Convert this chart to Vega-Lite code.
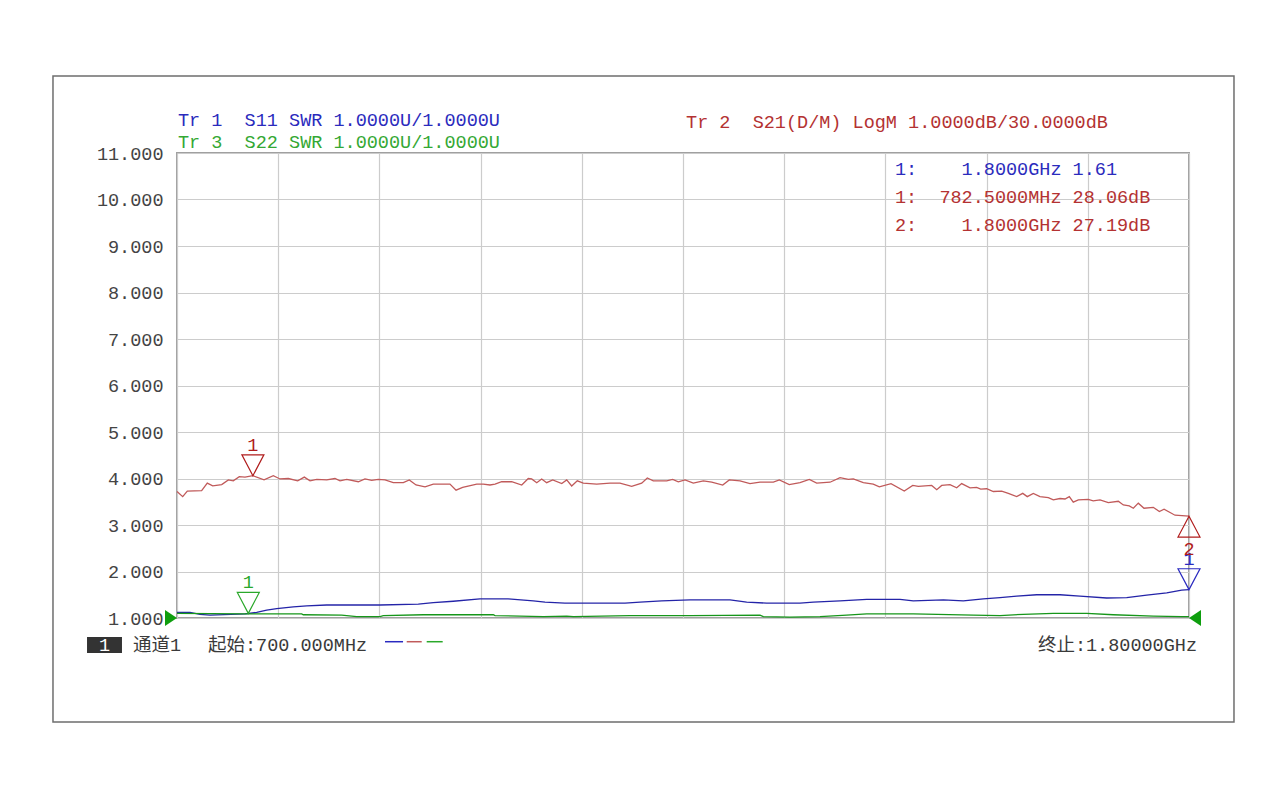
{
  "$schema": "https://vega.github.io/schema/vega-lite/v6.json",
  "width": 1012,
  "height": 465,
  "autosize": {"type": "none"},
  "padding": {"left": 177, "top": 153, "right": 91, "bottom": 182},
  "background": "white",
  "config": {
    "view": {"stroke": "#a0a0a0", "strokeWidth": 2},
    "font": "Liberation Mono",
    "axis": {"titleOpacity": 0, "titleFontSize": 1, "ticks": false, "domain": false, "grid": true, "gridColor": "#cccccc", "gridWidth": 1.2}
  },
  "datasets": {
    "traces": [
      {"trace": "S21", "f": 700, "v": 3.72}, {"trace": "S21", "f": 706.2, "v": 3.61}, {"trace": "S21", "f": 711.2, "v": 3.73},
      {"trace": "S21", "f": 726.8, "v": 3.74}, {"trace": "S21", "f": 732.9, "v": 3.90}, {"trace": "S21", "f": 738.8, "v": 3.84},
      {"trace": "S21", "f": 748.6, "v": 3.87}, {"trace": "S21", "f": 755.8, "v": 3.97}, {"trace": "S21", "f": 761.2, "v": 3.95},
      {"trace": "S21", "f": 767.7, "v": 4.04}, {"trace": "S21", "f": 773.9, "v": 4.03}, {"trace": "S21", "f": 782.5, "v": 4.06},
      {"trace": "S21", "f": 794.6, "v": 3.97}, {"trace": "S21", "f": 804.7, "v": 4.06}, {"trace": "S21", "f": 812.0, "v": 3.99},
      {"trace": "S21", "f": 821.0, "v": 4.00}, {"trace": "S21", "f": 831.2, "v": 3.95}, {"trace": "S21", "f": 838.4, "v": 4.03},
      {"trace": "S21", "f": 844.6, "v": 3.95}, {"trace": "S21", "f": 851.9, "v": 3.98}, {"trace": "S21", "f": 862.7, "v": 3.97},
      {"trace": "S21", "f": 871.7, "v": 4.00}, {"trace": "S21", "f": 877.2, "v": 3.95}, {"trace": "S21", "f": 884.5, "v": 3.98},
      {"trace": "S21", "f": 897.1, "v": 3.93}, {"trace": "S21", "f": 904.3, "v": 3.99}, {"trace": "S21", "f": 911.6, "v": 3.96},
      {"trace": "S21", "f": 918.8, "v": 3.98}, {"trace": "S21", "f": 926.1, "v": 3.97}, {"trace": "S21", "f": 935.1, "v": 3.91},
      {"trace": "S21", "f": 946.0, "v": 3.91}, {"trace": "S21", "f": 952.5, "v": 3.97}, {"trace": "S21", "f": 959.8, "v": 3.86},
      {"trace": "S21", "f": 969.6, "v": 3.82}, {"trace": "S21", "f": 978.6, "v": 3.88}, {"trace": "S21", "f": 996.7, "v": 3.88},
      {"trace": "S21", "f": 1003.3, "v": 3.75}, {"trace": "S21", "f": 1010.5, "v": 3.81}, {"trace": "S21", "f": 1025.8, "v": 3.88},
      {"trace": "S21", "f": 1032.9, "v": 3.88}, {"trace": "S21", "f": 1040.2, "v": 3.86}, {"trace": "S21", "f": 1045.7, "v": 3.88},
      {"trace": "S21", "f": 1052.9, "v": 3.93}, {"trace": "S21", "f": 1063.8, "v": 3.93}, {"trace": "S21", "f": 1074.7, "v": 3.86},
      {"trace": "S21", "f": 1081.8, "v": 4.00}, {"trace": "S21", "f": 1085.5, "v": 3.99}, {"trace": "S21", "f": 1091.0, "v": 3.91},
      {"trace": "S21", "f": 1096.4, "v": 3.99}, {"trace": "S21", "f": 1101.8, "v": 3.91}, {"trace": "S21", "f": 1108.4, "v": 3.97},
      {"trace": "S21", "f": 1118.2, "v": 3.89}, {"trace": "S21", "f": 1123.6, "v": 3.97}, {"trace": "S21", "f": 1129.0, "v": 3.84},
      {"trace": "S21", "f": 1135.1, "v": 3.95}, {"trace": "S21", "f": 1141.6, "v": 3.90}, {"trace": "S21", "f": 1156.2, "v": 3.88},
      {"trace": "S21", "f": 1170.7, "v": 3.90}, {"trace": "S21", "f": 1181.5, "v": 3.90}, {"trace": "S21", "f": 1194.2, "v": 3.83},
      {"trace": "S21", "f": 1205.1, "v": 3.90}, {"trace": "S21", "f": 1211.2, "v": 4.01}, {"trace": "S21", "f": 1217.7, "v": 3.95},
      {"trace": "S21", "f": 1232.3, "v": 3.95}, {"trace": "S21", "f": 1238.8, "v": 3.98}, {"trace": "S21", "f": 1244.9, "v": 3.93},
      {"trace": "S21", "f": 1252.2, "v": 3.97}, {"trace": "S21", "f": 1261.2, "v": 3.90}, {"trace": "S21", "f": 1272.1, "v": 3.95},
      {"trace": "S21", "f": 1281.2, "v": 3.92}, {"trace": "S21", "f": 1293.2, "v": 3.86}, {"trace": "S21", "f": 1300.3, "v": 3.97},
      {"trace": "S21", "f": 1312.0, "v": 3.95}, {"trace": "S21", "f": 1322.8, "v": 3.89}, {"trace": "S21", "f": 1333.7, "v": 3.92},
      {"trace": "S21", "f": 1348.2, "v": 3.92}, {"trace": "S21", "f": 1354.7, "v": 3.97}, {"trace": "S21", "f": 1365.5, "v": 3.87},
      {"trace": "S21", "f": 1377.2, "v": 3.91}, {"trace": "S21", "f": 1387.3, "v": 3.98}, {"trace": "S21", "f": 1395.3, "v": 3.90},
      {"trace": "S21", "f": 1409.8, "v": 3.92}, {"trace": "S21", "f": 1420.7, "v": 4.02}, {"trace": "S21", "f": 1429.7, "v": 3.98},
      {"trace": "S21", "f": 1435.1, "v": 3.99}, {"trace": "S21", "f": 1446.0, "v": 3.91}, {"trace": "S21", "f": 1456.8, "v": 3.88},
      {"trace": "S21", "f": 1463.4, "v": 3.82}, {"trace": "S21", "f": 1476.1, "v": 3.89}, {"trace": "S21", "f": 1490.5, "v": 3.73},
      {"trace": "S21", "f": 1499.7, "v": 3.85}, {"trace": "S21", "f": 1505.8, "v": 3.83}, {"trace": "S21", "f": 1520.3, "v": 3.85},
      {"trace": "S21", "f": 1525.8, "v": 3.76}, {"trace": "S21", "f": 1531.2, "v": 3.85}, {"trace": "S21", "f": 1540.2, "v": 3.87},
      {"trace": "S21", "f": 1547.5, "v": 3.80}, {"trace": "S21", "f": 1552.9, "v": 3.89}, {"trace": "S21", "f": 1562.0, "v": 3.80},
      {"trace": "S21", "f": 1569.2, "v": 3.81}, {"trace": "S21", "f": 1573.6, "v": 3.77}, {"trace": "S21", "f": 1580.1, "v": 3.78},
      {"trace": "S21", "f": 1587.3, "v": 3.72}, {"trace": "S21", "f": 1596.4, "v": 3.73}, {"trace": "S21", "f": 1603.6, "v": 3.68},
      {"trace": "S21", "f": 1612.7, "v": 3.61}, {"trace": "S21", "f": 1619.3, "v": 3.68}, {"trace": "S21", "f": 1624.2, "v": 3.61},
      {"trace": "S21", "f": 1630.8, "v": 3.68}, {"trace": "S21", "f": 1638.0, "v": 3.61}, {"trace": "S21", "f": 1647.1, "v": 3.59},
      {"trace": "S21", "f": 1652.5, "v": 3.54}, {"trace": "S21", "f": 1659.8, "v": 3.57}, {"trace": "S21", "f": 1665.2, "v": 3.56},
      {"trace": "S21", "f": 1669.9, "v": 3.61}, {"trace": "S21", "f": 1674.2, "v": 3.49}, {"trace": "S21", "f": 1679.7, "v": 3.54},
      {"trace": "S21", "f": 1690.5, "v": 3.55}, {"trace": "S21", "f": 1695.9, "v": 3.52}, {"trace": "S21", "f": 1703.3, "v": 3.54},
      {"trace": "S21", "f": 1712.3, "v": 3.48}, {"trace": "S21", "f": 1723.2, "v": 3.51}, {"trace": "S21", "f": 1728.6, "v": 3.43},
      {"trace": "S21", "f": 1735.1, "v": 3.41}, {"trace": "S21", "f": 1739.5, "v": 3.36}, {"trace": "S21", "f": 1744.9, "v": 3.47},
      {"trace": "S21", "f": 1751.1, "v": 3.36}, {"trace": "S21", "f": 1761.2, "v": 3.38}, {"trace": "S21", "f": 1767.8, "v": 3.29},
      {"trace": "S21", "f": 1772.9, "v": 3.34}, {"trace": "S21", "f": 1784.8, "v": 3.21}, {"trace": "S21", "f": 1800, "v": 3.19},

      {"trace": "S11", "f": 700, "v": 1.12}, {"trace": "S11", "f": 714.1, "v": 1.12}, {"trace": "S11", "f": 725.0, "v": 1.08},
      {"trace": "S11", "f": 735.9, "v": 1.06}, {"trace": "S11", "f": 773.9, "v": 1.09}, {"trace": "S11", "f": 786.6, "v": 1.12},
      {"trace": "S11", "f": 797.5, "v": 1.17}, {"trace": "S11", "f": 808.4, "v": 1.20}, {"trace": "S11", "f": 826.4, "v": 1.24},
      {"trace": "S11", "f": 841.0, "v": 1.26}, {"trace": "S11", "f": 862.7, "v": 1.28}, {"trace": "S11", "f": 920.7, "v": 1.28},
      {"trace": "S11", "f": 962.3, "v": 1.30}, {"trace": "S11", "f": 978.6, "v": 1.33}, {"trace": "S11", "f": 1000.3, "v": 1.36},
      {"trace": "S11", "f": 1029.3, "v": 1.41}, {"trace": "S11", "f": 1060.1, "v": 1.41}, {"trace": "S11", "f": 1087.3, "v": 1.37},
      {"trace": "S11", "f": 1100.0, "v": 1.34}, {"trace": "S11", "f": 1121.7, "v": 1.32}, {"trace": "S11", "f": 1187.0, "v": 1.32},
      {"trace": "S11", "f": 1203.3, "v": 1.34}, {"trace": "S11", "f": 1226.9, "v": 1.37}, {"trace": "S11", "f": 1257.6, "v": 1.39},
      {"trace": "S11", "f": 1301.1, "v": 1.39}, {"trace": "S11", "f": 1319.2, "v": 1.34}, {"trace": "S11", "f": 1341.0, "v": 1.32},
      {"trace": "S11", "f": 1377.2, "v": 1.32}, {"trace": "S11", "f": 1391.6, "v": 1.34}, {"trace": "S11", "f": 1420.7, "v": 1.37},
      {"trace": "S11", "f": 1449.7, "v": 1.40}, {"trace": "S11", "f": 1485.9, "v": 1.40}, {"trace": "S11", "f": 1500.3, "v": 1.37},
      {"trace": "S11", "f": 1533.0, "v": 1.39}, {"trace": "S11", "f": 1554.7, "v": 1.37}, {"trace": "S11", "f": 1576.4, "v": 1.41},
      {"trace": "S11", "f": 1594.6, "v": 1.44}, {"trace": "S11", "f": 1612.7, "v": 1.47}, {"trace": "S11", "f": 1634.5, "v": 1.50},
      {"trace": "S11", "f": 1659.8, "v": 1.50}, {"trace": "S11", "f": 1681.5, "v": 1.47}, {"trace": "S11", "f": 1710.5, "v": 1.43},
      {"trace": "S11", "f": 1732.3, "v": 1.44}, {"trace": "S11", "f": 1754.0, "v": 1.49}, {"trace": "S11", "f": 1775.8, "v": 1.54},
      {"trace": "S11", "f": 1792.1, "v": 1.60}, {"trace": "S11", "f": 1800, "v": 1.61},

      {"trace": "S22", "f": 700, "v": 1.10}, {"trace": "S22", "f": 773.9, "v": 1.09}, {"trace": "S22", "f": 835.5, "v": 1.09},
      {"trace": "S22", "f": 837.3, "v": 1.07}, {"trace": "S22", "f": 879.0, "v": 1.06}, {"trace": "S22", "f": 895.3, "v": 1.03},
      {"trace": "S22", "f": 920.7, "v": 1.03}, {"trace": "S22", "f": 924.2, "v": 1.05}, {"trace": "S22", "f": 967.7, "v": 1.07},
      {"trace": "S22", "f": 1043.8, "v": 1.07}, {"trace": "S22", "f": 1045.7, "v": 1.05}, {"trace": "S22", "f": 1072.8, "v": 1.04},
      {"trace": "S22", "f": 1098.2, "v": 1.03}, {"trace": "S22", "f": 1123.6, "v": 1.04}, {"trace": "S22", "f": 1130.8, "v": 1.03},
      {"trace": "S22", "f": 1192.4, "v": 1.05}, {"trace": "S22", "f": 1257.6, "v": 1.05}, {"trace": "S22", "f": 1333.7, "v": 1.06},
      {"trace": "S22", "f": 1337.3, "v": 1.03}, {"trace": "S22", "f": 1366.3, "v": 1.02}, {"trace": "S22", "f": 1398.9, "v": 1.03},
      {"trace": "S22", "f": 1427.9, "v": 1.06}, {"trace": "S22", "f": 1449.7, "v": 1.09}, {"trace": "S22", "f": 1500.3, "v": 1.09},
      {"trace": "S22", "f": 1565.5, "v": 1.06}, {"trace": "S22", "f": 1594.6, "v": 1.05}, {"trace": "S22", "f": 1619.9, "v": 1.08},
      {"trace": "S22", "f": 1652.5, "v": 1.10}, {"trace": "S22", "f": 1688.8, "v": 1.10}, {"trace": "S22", "f": 1717.7, "v": 1.07},
      {"trace": "S22", "f": 1761.2, "v": 1.04}, {"trace": "S22", "f": 1792.1, "v": 1.03}, {"trace": "S22", "f": 1800, "v": 1.03}
    ],
    "markers": [
      {"trace": "S21", "label": "1", "dir": "down", "f": 782.5, "v": 4.06},
      {"trace": "S22", "label": "1", "dir": "down", "f": 777.5, "v": 1.10},
      {"trace": "S11", "label": "1", "dir": "down", "f": 1800, "v": 1.61},
      {"trace": "S21", "label": "2", "dir": "up", "f": 1800, "v": 3.19}
    ],
    "notes": [
      {"group": "S11", "text": "Tr 1\u00a0\u00a0S11 SWR 1.0000U/1.0000U", "f": 701.1, "v": 11.71},
      {"group": "S22", "text": "Tr 3\u00a0\u00a0S22 SWR 1.0000U/1.0000U", "f": 701.1, "v": 11.23},
      {"group": "S21", "text": "Tr 2\u00a0\u00a0S21(D/M) LogM 1.0000dB/30.0000dB", "f": 1253.3, "v": 11.67},
      {"group": "S11", "text": "1:\u00a0\u00a0\u00a0\u00a01.8000GHz 1.61", "f": 1480.4, "v": 10.656},
      {"group": "S21", "text": "1:\u00a0\u00a0782.5000MHz 28.06dB", "f": 1480.4, "v": 10.054},
      {"group": "S21", "text": "2:\u00a0\u00a0\u00a0\u00a01.8000GHz 27.19dB", "f": 1480.4, "v": 9.452},
      {"group": "info", "text": "通道1", "f": 652.2, "v": 0.42},
      {"group": "info", "text": "起始:700.000MHz", "f": 733.7, "v": 0.42}
    ],
    "one": [{}]
  },
  "layer": [
    {
      "data": {"name": "traces"},
      "mark": {"type": "line", "strokeWidth": 1.3},
      "encoding": {
        "x": {"field": "f", "type": "quantitative",
          "scale": {"domain": [700, 1800], "nice": false, "zero": false},
          "axis": {"values": [700, 810, 920, 1030, 1140, 1250, 1360, 1470, 1580, 1690, 1800], "labels": false, "ticks": false, "domain": false, "grid": true, "title": null}},
        "y": {"field": "v", "type": "quantitative",
          "scale": {"domain": [1, 11], "nice": false, "zero": false},
          "axis": {"values": [1, 2, 3, 4, 5, 6, 7, 8, 9, 10, 11], "format": ".3f", "ticks": false, "domain": false, "grid": true, "labelFont": "Liberation Mono", "labelFontSize": 18.5, "labelColor": "#444444", "labelPadding": 14, "title": null}},
        "color": {"field": "trace", "type": "nominal", "scale": {"domain": ["S11", "S21", "S22"], "range": ["#2424a8", "#c05a5a", "#16961a"]}, "legend": null}
      }
    },
    {
      "data": {"name": "one"},
      "mark": {"type": "rect", "fill": "transparent", "stroke": "#6e6e6e", "strokeWidth": 1.5},
      "encoding": {
        "x": {"datum": 565.2, "type": "quantitative"},
        "x2": {"datum": 1848.9},
        "y": {"datum": 12.656, "type": "quantitative"},
        "y2": {"datum": -1.237}
      }
    },
    {
      "data": {"name": "markers"},
      "mark": {"type": "point", "filled": false, "strokeWidth": 1.2, "size": 484, "opacity": 1},
      "encoding": {
        "x": {"field": "f", "type": "quantitative"},
        "y": {"field": "v", "type": "quantitative"},
        "shape": {"field": "dir", "type": "nominal", "scale": {"domain": ["down", "up"], "range": ["M-1,-1.9L1,-1.9L0,0Z", "M-1,1.9L1,1.9L0,0Z"]}, "legend": null},
        "color": {"field": "trace", "type": "nominal", "scale": {"domain": ["S11", "S21", "S22"], "range": ["#2a2ac0", "#b01c1c", "#2aa82a"]}, "legend": null}
      }
    },
    {
      "data": {"name": "markers"},
      "transform": [{"filter": "datum.dir === 'down'"}],
      "mark": {"type": "text", "dy": -31, "align": "center", "baseline": "middle", "fontSize": 18.5, "font": "Liberation Mono"},
      "encoding": {
        "x": {"field": "f", "type": "quantitative"},
        "y": {"field": "v", "type": "quantitative"},
        "text": {"field": "label"},
        "color": {"field": "trace", "type": "nominal", "scale": {"domain": ["S11", "S21", "S22"], "range": ["#2a2ac0", "#b01c1c", "#2aa82a"]}, "legend": null}
      }
    },
    {
      "data": {"name": "markers"},
      "transform": [{"filter": "datum.dir === 'up'"}],
      "mark": {"type": "text", "dy": 33, "align": "center", "baseline": "middle", "fontSize": 18.5, "font": "Liberation Mono"},
      "encoding": {
        "x": {"field": "f", "type": "quantitative"},
        "y": {"field": "v", "type": "quantitative"},
        "text": {"field": "label"},
        "color": {"field": "trace", "type": "nominal", "scale": {"domain": ["S11", "S21", "S22"], "range": ["#2a2ac0", "#b01c1c", "#2aa82a"]}, "legend": null}
      }
    },
    {
      "data": {"name": "notes"},
      "mark": {"type": "text", "align": "left", "baseline": "middle", "fontSize": 18.5, "font": "Liberation Mono, Noto Sans CJK SC"},
      "encoding": {
        "x": {"field": "f", "type": "quantitative"},
        "y": {"field": "v", "type": "quantitative"},
        "text": {"field": "text"},
        "color": {"field": "group", "type": "nominal", "scale": {"domain": ["S11", "S21", "S22", "info"], "range": ["#2b2bbd", "#b43232", "#34a834", "#3a3a3a"]}, "legend": null}
      }
    },
    {
      "data": {"name": "one"},
      "mark": {"type": "text", "align": "right", "baseline": "middle", "fontSize": 18.5, "font": "Liberation Mono, Noto Sans CJK SC", "color": "#3a3a3a"},
      "encoding": {
        "x": {"datum": 1808.7, "type": "quantitative"},
        "y": {"datum": 0.42, "type": "quantitative"},
        "text": {"value": "终止:1.80000GHz"}
      }
    },
    {
      "data": {"name": "one"},
      "mark": {"type": "rect", "fill": "#333333"},
      "encoding": {
        "x": {"datum": 602.2, "type": "quantitative"},
        "x2": {"datum": 640.2},
        "y": {"datum": 0.591, "type": "quantitative"},
        "y2": {"datum": 0.247}
      }
    },
    {
      "data": {"name": "one"},
      "mark": {"type": "text", "align": "center", "baseline": "middle", "fontSize": 18.5, "font": "Liberation Mono", "color": "white"},
      "encoding": {
        "x": {"datum": 621.2, "type": "quantitative"},
        "y": {"datum": 0.42, "type": "quantitative"},
        "text": {"value": "1"}
      }
    },
    {
      "data": {"name": "one"},
      "mark": {"type": "rule", "color": "#2a2ac0", "strokeWidth": 1.5},
      "encoding": {
        "x": {"datum": 926.1, "type": "quantitative"},
        "x2": {"datum": 945.7},
        "y": {"datum": 0.49, "type": "quantitative"}
      }
    },
    {
      "data": {"name": "one"},
      "mark": {"type": "rule", "color": "#c05a5a", "strokeWidth": 1.5},
      "encoding": {
        "x": {"datum": 949.7, "type": "quantitative"},
        "x2": {"datum": 966.0},
        "y": {"datum": 0.49, "type": "quantitative"}
      }
    },
    {
      "data": {"name": "one"},
      "mark": {"type": "rule", "color": "#2aa82a", "strokeWidth": 1.5},
      "encoding": {
        "x": {"datum": 971.4, "type": "quantitative"},
        "x2": {"datum": 988.8},
        "y": {"datum": 0.49, "type": "quantitative"}
      }
    },
    {
      "data": {"name": "one"},
      "mark": {"type": "point", "filled": true, "size": 256, "opacity": 1, "color": "#0e9e0e", "shape": "M-1.5,-1L0,0L-1.5,1Z"},
      "encoding": {
        "x": {"datum": 700, "type": "quantitative"},
        "y": {"datum": 1, "type": "quantitative"}
      }
    },
    {
      "data": {"name": "one"},
      "mark": {"type": "point", "filled": true, "size": 256, "opacity": 1, "color": "#0e9e0e", "shape": "M1.5,-1L0,0L1.5,1Z"},
      "encoding": {
        "x": {"datum": 1800, "type": "quantitative"},
        "y": {"datum": 1, "type": "quantitative"}
      }
    }
  ],
  "resolve": {"scale": {"color": "independent"}}
}
